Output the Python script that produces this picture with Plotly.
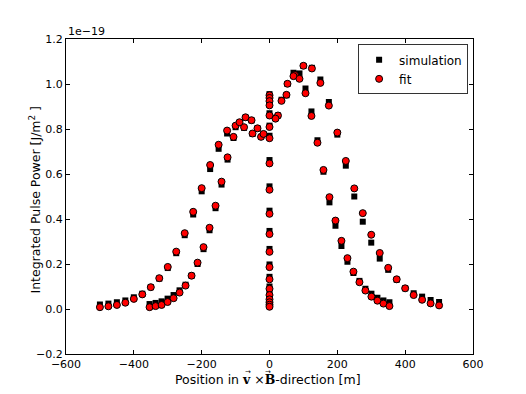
import plotly.graph_objects as go

# v x B arm (wide curve)
wide_x = [-500, -475, -450, -425, -400, -375, -350, -325, -300, -275, -250, -225, -200,
          -175, -150, -125, -100, -75, -50, -25,
          25, 50, 75, 100, 125, 150, 175, 200, 225, 250, 275, 300, 325, 350, 375, 400,
          425, 450, 475, 500]
wide_fit = [0.008, 0.012, 0.018, 0.028, 0.045, 0.065, 0.097, 0.137, 0.187, 0.255, 0.337, 0.432, 0.537,
            0.640, 0.730, 0.793, 0.815, 0.808, 0.780, 0.765,
            0.860, 0.952, 1.040, 1.081, 1.069, 1.005, 0.904, 0.784, 0.658, 0.536, 0.426, 0.330,
            0.249, 0.183, 0.132, 0.092, 0.062, 0.041, 0.025, 0.016]
wide_sim = [0.020, 0.024, 0.030, 0.038, 0.052, 0.068, 0.097, 0.135, 0.182, 0.248, 0.328, 0.420, 0.523,
            0.622, 0.712, 0.780, 0.808, 0.805, 0.778, 0.765,
            0.860, 0.950, 1.045, 1.080, 1.072, 1.020, 0.920, 0.775, 0.637, 0.500, 0.388, 0.295,
            0.224, 0.174, 0.130, 0.092, 0.070, 0.055, 0.040, 0.031]

# diagonal arms (projected)
diag_x = [-353.6, -335.9, -318.2, -300.5, -282.8, -265.2, -247.5, -229.8, -212.1, -194.5,
          -176.8, -159.1, -141.4, -123.7, -106.1, -88.4, -70.7, -53.0, -35.4, -17.7,
          17.7, 35.4, 53.0, 70.7, 88.4, 106.1, 123.7, 141.4, 159.1, 176.8,
          194.5, 212.1, 229.8, 247.5, 265.2, 282.8, 300.5, 318.2, 335.9, 353.6]
diag_fit = [0.008, 0.013, 0.018, 0.031, 0.048, 0.073, 0.104, 0.148, 0.206, 0.275,
            0.361, 0.459, 0.566, 0.674, 0.765, 0.830, 0.852, 0.839, 0.803, 0.778,
            0.846, 0.925, 1.001, 1.035, 1.023, 0.959, 0.858, 0.739, 0.618, 0.497,
            0.393, 0.303, 0.226, 0.166, 0.119, 0.082, 0.055, 0.037, 0.024, 0.013]
diag_sim = [0.022, 0.027, 0.034, 0.046, 0.062, 0.083, 0.108, 0.148, 0.200, 0.266,
            0.350, 0.448, 0.553, 0.664, 0.760, 0.828, 0.850, 0.838, 0.803, 0.778,
            0.850, 0.930, 1.000, 1.050, 1.047, 0.980, 0.878, 0.750, 0.610, 0.474,
            0.370, 0.280, 0.210, 0.160, 0.125, 0.090, 0.068, 0.050, 0.038, 0.030]

# v x v x B arm (all at x = 0)
col_x = [0.0] * 20
col_fit = [0.950, 0.938, 0.924, 0.905, 0.860, 0.809, 0.759, 0.647, 0.530, 0.423,
           0.333, 0.254, 0.186, 0.132, 0.090, 0.062, 0.043, 0.030, 0.019, 0.010]
col_sim = [0.955, 0.945, 0.930, 0.915, 0.870, 0.815, 0.770, 0.662, 0.545, 0.437,
           0.347, 0.267, 0.198, 0.143, 0.100, 0.071, 0.052, 0.038, 0.027, 0.018]

x_all = wide_x + diag_x + col_x
sim_all = wide_sim + diag_sim + col_sim
fit_all = wide_fit + diag_fit + col_fit

x_ticks = [-600, -400, -200, 0, 200, 400, 600]
y_ticks = [-0.2, 0.0, 0.2, 0.4, 0.6, 0.8, 1.0, 1.2]

FONT = "DejaVu Sans"

fig = go.Figure()
fig.add_trace(go.Scatter(
    x=x_all, y=sim_all, mode="markers", name="simulation",
    marker=dict(symbol="square", size=6, color="black", line=dict(width=0)),
))
fig.add_trace(go.Scatter(
    x=x_all, y=fit_all, mode="markers", name="fit",
    marker=dict(symbol="circle", size=7, color="#ff0000", line=dict(width=1, color="black")),
))

axis_common = dict(
    showline=True, linecolor="black", linewidth=1, mirror="ticks",
    ticks="inside", ticklen=4, tickwidth=1, tickcolor="black",
    showgrid=False, zeroline=False, automargin=False,
    tickfont=dict(family=FONT, size=11, color="black"),
)

SERIF_B = "<span style='font-family:DejaVu Serif'><b>{}</b></span>"

# page body adds an 8px offset, so the figure is 8px smaller on each axis
fig.update_layout(
    width=518, height=386,
    margin=dict(l=58, r=53, t=31, b=40),
    paper_bgcolor="white", plot_bgcolor="white",
    font=dict(family=FONT, size=12, color="black"),
    showlegend=True,
    legend=dict(
        x=0.988, y=0.983, xanchor="right", yanchor="top",
        bgcolor="white", bordercolor="#333333", borderwidth=1,
        font=dict(family=FONT, size=12, color="black"),
        itemwidth=30, tracegroupgap=0,
    ),
    xaxis=dict(
        range=[-600, 600], tickvals=x_ticks,
        ticktext=[f"{v}".replace("-", "\u2212") for v in x_ticks],
        **axis_common,
    ),
    yaxis=dict(
        range=[-0.2, 1.2], tickvals=y_ticks,
        ticktext=[f"{v:.1f}".replace("-", "\u2212") for v in y_ticks],
        **axis_common,
    ),
    annotations=[
        dict(text="1e\u221219", xref="paper", yref="paper", x=0.0, y=1.0,
             xanchor="left", yanchor="bottom", showarrow=False,
             font=dict(family=FONT, size=11, color="black"), yshift=-1),
        dict(text="Integrated Pulse Power [J/m<sup>2</sup> ]", xref="paper", yref="paper",
             x=-0.0765, y=0.49, xanchor="center", yanchor="middle", textangle=-90,
             showarrow=False, font=dict(family=FONT, size=12.5, color="black")),
        dict(text="Position in " + SERIF_B.format("v") + " \u00d7" + SERIF_B.format("B")
                  + "-direction [m]",
             xref="paper", yref="paper", x=0.4975, y=-0.0825, xanchor="center", yanchor="middle",
             showarrow=False, font=dict(family=FONT, size=12.5, color="black")),
        dict(text="\u2192", xref="paper", yref="paper", x=0.447, y=-0.058,
             xanchor="center", yanchor="middle", showarrow=False,
             font=dict(family=FONT, size=7, color="black")),
        dict(text="\u2192", xref="paper", yref="paper", x=0.496, y=-0.058,
             xanchor="center", yanchor="middle", showarrow=False,
             font=dict(family=FONT, size=7, color="black")),
    ],
)

fig.write_html("out.html")
